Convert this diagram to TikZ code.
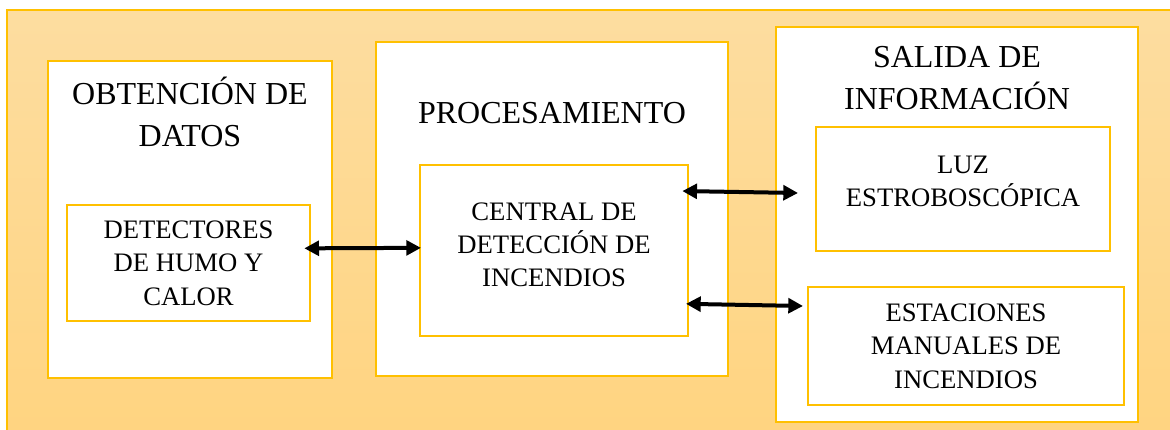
\documentclass[tikz,border=0pt]{standalone}
\usepackage{fontspec}
\setmainfont{Liberation Serif}
\usepackage{tikz}
\usepackage{xcolor}
\usetikzlibrary{arrows.meta}
\definecolor{gold}{RGB}{255,192,0}
\definecolor{bgtop}{RGB}{253,221,160}
\definecolor{bgbot}{RGB}{255,212,128}

\begin{document}
\begin{tikzpicture}[x=0.75pt,y=-0.75pt,
  box/.style={draw=gold, line width=1.5pt, fill=white, inner sep=0pt, align=center},
  title/.style={font=\fontsize{24}{31}\selectfont, align=center, inner sep=0pt},
  inner/.style={box, font=\fontsize{20}{25}\selectfont},
  biarrow/.style={{Triangle[length=11pt,width=11pt]}-{Triangle[length=11pt,width=11pt]}, line width=3pt}]
\useasboundingbox (0,0) rectangle (1170,429);
%% background
\shade[top color=bgtop, bottom color=bgbot, draw=gold, line width=1pt] (7,10) rectangle (1180,440);
%% blocks
\node[box, minimum width=213pt, minimum height=237.75pt] (obt) at (190,219.5) {};
\node[box, minimum width=264pt, minimum height=250.5pt] (pro) at (552,209) {};
\node[box, minimum width=271.5pt, minimum height=296.25pt] (sal) at (957,224.5) {};
\node[title] (obtt) at (190,112) {OBTENCIÓN DE\\DATOS};
\node[title] (prot) at (552,113) {PROCESAMIENTO};
\node[title] (salt) at (957,78) {SALIDA DE\\INFORMACIÓN};
%% inner blocks
\node[inner, minimum width=182.25pt, minimum height=87pt] (det) at (188.5,263) {DETECTORES\\DE HUMO Y\\CALOR};
\node[inner, minimum width=201pt, minimum height=128.25pt, text depth=9pt] (cen) at (554,250.5) {CENTRAL DE\\DETECCIÓN DE\\INCENDIOS};
\node[inner, minimum width=220.5pt, minimum height=93pt, text depth=12pt] (luz) at (963,189) {LUZ\\ESTROBOSCÓPICA};
\node[inner, minimum width=237pt, minimum height=88.5pt] (est) at (966,346) {ESTACIONES\\MANUALES DE\\INCENDIOS};
%% arrows
\draw[biarrow] ([xshift=-5pt,yshift=11pt]det.east) -- ([xshift=1.5pt,yshift=2pt]cen.west);
\draw[biarrow] ([xshift=-5pt,yshift=44.6pt]cen.east) -- ([xshift=-12.75pt,yshift=-3pt]luz.west);
\draw[biarrow] ([xshift=-2.25pt,yshift=-40pt]cen.east) -- ([xshift=-3pt,yshift=30pt]est.west);
\end{tikzpicture}
\end{document}
